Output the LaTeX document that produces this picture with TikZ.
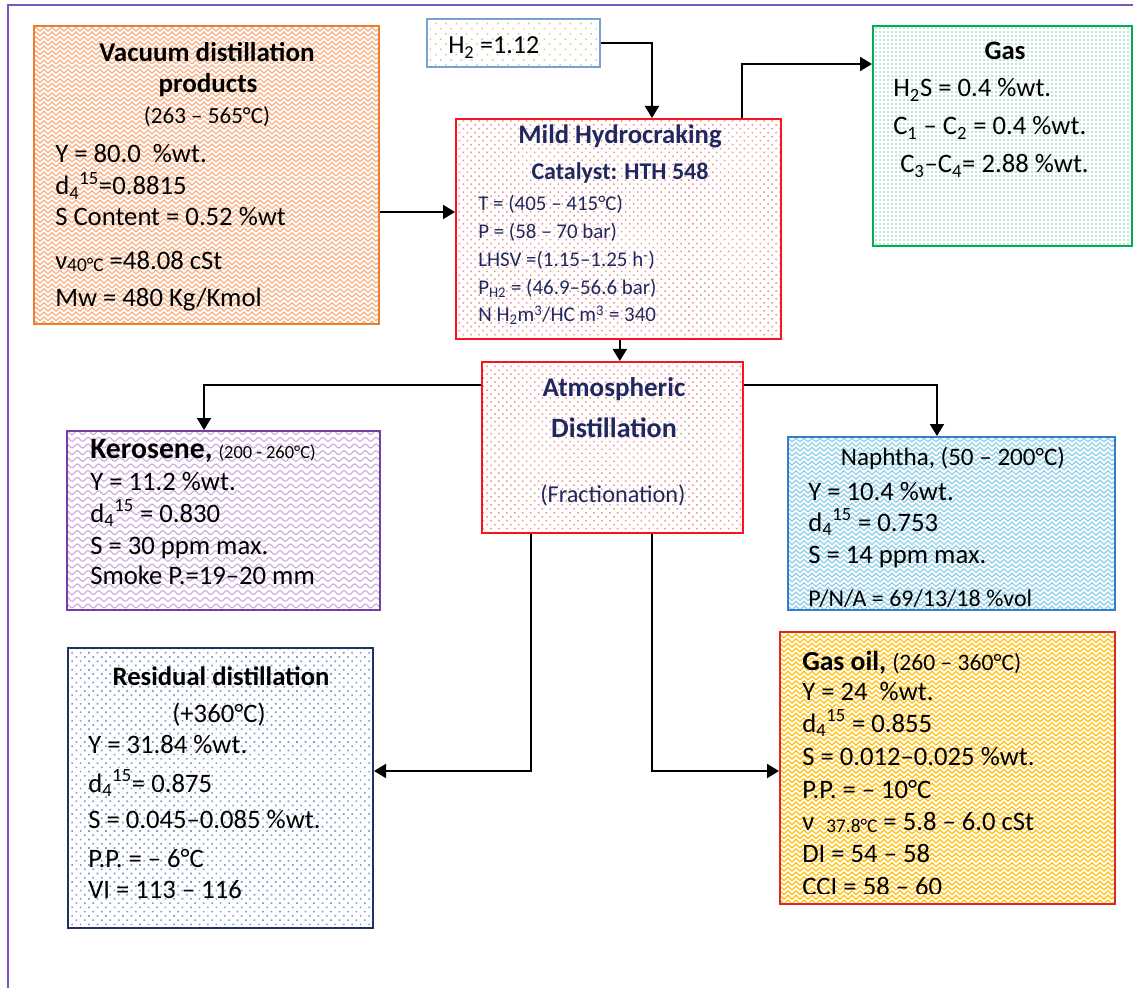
\documentclass[tikz,border=0pt]{standalone}
\usepackage{fontspec}
\setmainfont{Carlito}
\usetikzlibrary{arrows.meta,fit,patterns.meta}

\definecolor{framepurple}{RGB}{125,85,190}
\definecolor{vacborder}{RGB}{237,125,49}
\definecolor{vacpat}{RGB}{246,175,130}
\definecolor{hborder}{RGB}{120,160,210}
\definecolor{hpat}{RGB}{190,212,150}
\definecolor{redborder}{RGB}{250,20,30}
\definecolor{redpat}{RGB}{245,140,140}
\definecolor{gasborder}{RGB}{0,176,80}
\definecolor{gaspat}{RGB}{165,222,195}
\definecolor{keroborder}{RGB}{120,60,170}
\definecolor{keropat}{RGB}{205,165,225}
\definecolor{naphborder}{RGB}{50,125,205}
\definecolor{naphpat}{RGB}{140,205,232}
\definecolor{resborder}{RGB}{31,50,100}
\definecolor{respat}{RGB}{125,155,212}
\definecolor{goborder}{RGB}{220,40,40}
\definecolor{gopat}{RGB}{255,190,10}
\definecolor{navy}{RGB}{32,40,96}

% chevron weave tile
\tikzdeclarepattern{
  name=zigweave, type=uncolored,
  bottom left={(-0.6pt,-0.6pt)}, top right={(6.6pt,3.6pt)},
  tile size={(6pt,3.5pt)},
  code={
    \draw[line width=0.9pt] (0pt,0pt) -- (3pt,3pt) -- (6pt,0pt);
  }
}
% wavy lines tile
\tikzdeclarepattern{
  name=waves, type=uncolored,
  bottom left={(-0.6pt,-0.6pt)}, top right={(8.6pt,3.6pt)},
  tile size={(8pt,5pt)},
  code={
    \draw[line width=0.8pt] (0pt,1.5pt) sin (2pt,3pt) cos (4pt,1.5pt) sin (6pt,0pt) cos (8pt,1.5pt);
  }
}

\newcommand\fsz[1]{\fontsize{#1}{#1}\selectfont}

\begin{document}
\begin{tikzpicture}[x=0.75pt,y=-0.75pt,
  box/.style={inner sep=0pt, line width=1.5pt},
  arr/.style={line width=1.5pt, -{Triangle[length=9pt,width=10.5pt]}},
  txt/.style={inner sep=0pt, anchor=base west, font=\fsz{20}},
  ctxt/.style={inner sep=0pt, anchor=base, font=\fsz{20}},
]
\useasboundingbox (0,0) rectangle (1133,988);
\draw[line width=1.5pt, draw=framepurple] (8,988) -- (8,5) -- (1133,5);

% ---- boxes ----
\node[box, draw=vacborder, pattern=zigweave, pattern color=vacpat, fit={(34,26) (379,324)}] (vac) {};
\node[box, line width=1pt, draw=hborder, pattern={Dots[radius=0.8pt,distance=5.5pt,angle=45]}, pattern color=hpat, fit={(427,19) (600,67)}] (h2) {};
\node[box, draw=redborder, pattern={Dots[radius=0.8pt,distance=4.2pt,angle=45]}, pattern color=redpat, fit={(456,119) (781,339)}] (mild) {};
\node[box, draw=gasborder, pattern={Dots[radius=0.9pt,distance=3pt]}, pattern color=gaspat, fit={(873,26) (1132,246)}] (gas) {};
\node[box, draw=redborder, pattern={Dots[radius=0.8pt,distance=4.2pt,angle=45]}, pattern color=redpat, fit={(482,362) (743,533)}] (atm) {};
\node[box, draw=keroborder, pattern=waves, pattern color=keropat, fit={(67,431) (380,610)}] (kero) {};
\node[box, draw=naphborder, pattern=zigweave, pattern color=naphpat, fit={(788,437) (1115,610)}] (naph) {};
\node[box, draw=resborder, pattern={Dots[radius=0.9pt,distance=4.5pt,angle=45]}, pattern color=respat, fit={(68,648) (373,928)}] (res) {};
\node[box, draw=goborder, pattern=zigweave, pattern color=gopat, fit={(780,632) (1115,904)}] (go) {};

% ---- connectors ----
\draw[arr] (h2.east) -| ([xshift=25.1pt]mild.north);
\draw[arr] ([xshift=92.6pt]mild.north) |- ([yshift=54pt]gas.west);
\draw[arr] ([yshift=-27.75pt]vac.east) -- ([yshift=-27.75pt]vac.east -| mild.west);
\draw[arr] ([xshift=1pt]mild.south) -- ([xshift=1pt]mild.south |- atm.north);
\draw[arr] ([yshift=46.9pt]atm.west) -| ([xshift=-14.6pt]kero.north);
\draw[arr] ([yshift=46.9pt]atm.east) -| ([xshift=-10.9pt]naph.north);
\draw[arr] ([xshift=-61.1pt]atm.south) |- ([yshift=12.75pt]res.east);
\draw[arr] ([xshift=29.6pt]atm.south) |- ([yshift=-2.25pt]go.west);

% ---- vacuum distillation products ----
\node[ctxt, font=\fsz{20.3}\bfseries] (vac1) at (207,62) {Vacuum distillation};
\node[ctxt, font=\fsz{20.3}\bfseries] (vac2) at (208,93) {products};
\node[ctxt, font=\fsz{17.3}] (vac3) at (207,124) {(263 – 565°C)};
\node[txt] (vac4) at (55,163) {Y = 80.0 \ \%wt.};
\node[txt] (vac5) at (55,195) {d\textsubscript{4}\textsuperscript{15}=0.8815};
\node[txt] (vac6) at (55,226) {S Content = 0.52 \%wt};
\node[txt] (vac7) at (55,270) {ν{\fsz{14.5}\raisebox{-1.5pt}{40°C}} =48.08 cSt};
\node[txt] (vac8) at (55,307) {Mw = 480 Kg/Kmol};

% ---- hydrogen ----
\node[txt, font=\fsz{19.5}] (h2t) at (448,54) {H\textsubscript{2} =1.12};

% ---- mild hydrocracking ----
\node[ctxt, font=\fsz{20}\bfseries, text=navy] (mild1) at (620,144) {Mild Hydrocraking};
\node[ctxt, font=\fsz{18}\bfseries, text=navy] (mild2) at (620,180) {Catalyst: HTH 548};
\node[txt, font=\fsz{15.7}, text=navy] (mild3) at (478,211) {T = (405 – 415°C)};
\node[txt, font=\fsz{15.7}, text=navy] (mild4) at (478,239) {P = (58 – 70 bar)};
\node[txt, font=\fsz{15.7}, text=navy] (mild5) at (478,267) {LHSV =(1.15–1.25 h\textsuperscript{-})};
\node[txt, font=\fsz{15.7}, text=navy] (mild6) at (478,295) {P\textsubscript{H2} = (46.9–56.6 bar)};
\node[txt, font=\fsz{15.7}, text=navy] (mild7) at (478,322) {N H\textsubscript{2}m\textsuperscript{3}/HC m\textsuperscript{3} = 340};

% ---- gas ----
\node[ctxt, font=\fsz{20}\bfseries] (gas1) at (1005,60) {Gas};
\node[txt] (gas2) at (893,97) {H\textsubscript{2}S = 0.4 \%wt.};
\node[txt] (gas3) at (893,135) {C\textsubscript{1} – C\textsubscript{2} = 0.4 \%wt.};
\node[txt] (gas4) at (900,173) {C\textsubscript{3}–C\textsubscript{4}= 2.88 \%wt.};

% ---- atmospheric distillation ----
\node[ctxt, font=\fsz{20.3}\bfseries, text=navy] (atm1) at (614,397) {Atmospheric};
\node[ctxt, font=\fsz{21}\bfseries, text=navy] (atm2) at (614,437) {Distillation};
\node[ctxt, font=\fsz{18.2}, text=navy] (atm3) at (613,502) {(Fractionation)};

% ---- kerosene ----
\node[txt] (kero1) at (90,458) {{\fsz{22.3}\bfseries Kerosene,} {\fsz{13.8}(200 - 260°C)}};
\node[txt] (kero2) at (90,490) {Y = 11.2 \%wt.};
\node[txt] (kero3) at (90,522) {d\textsubscript{4}\textsuperscript{15} = 0.830};
\node[txt] (kero4) at (90,554) {S = 30 ppm max.};
\node[txt] (kero5) at (90,584) {Smoke P.=19–20 mm};

% ---- naphtha ----
\node[ctxt, font=\fsz{18.8}] (naph1) at (953,465) {Naphtha, (50 – 200°C)};
\node[txt] (naph2) at (808,500) {Y = 10.4 \%wt.};
\node[txt] (naph3) at (808,531) {d\textsubscript{4}\textsuperscript{15} = 0.753};
\node[txt] (naph4) at (808,563) {S = 14 ppm max.};
\node[txt, font=\fsz{18}] (naph5) at (808,606) {P/N/A = 69/13/18 \%vol};

% ---- residual distillation ----
\node[ctxt, font=\fsz{20}\bfseries] (res1) at (221,685) {Residual distillation};
\node[ctxt] (res2) at (219,722) {(+360°C)};
\node[txt] (res3) at (88,753) {Y = 31.84 \%wt.};
\node[txt] (res4) at (88,792) {d\textsubscript{4}\textsuperscript{15}= 0.875};
\node[txt] (res5) at (88,828) {S = 0.045–0.085 \%wt.};
\node[txt] (res6) at (88,867) {P.P. = – 6°C};
\node[txt] (res7) at (88,898) {VI = 113 – 116};

% ---- gas oil ----
\node[txt] (go1) at (802,670) {{\fsz{20.7}\bfseries Gas oil,} {\fsz{17.7}(260 – 360°C)}};
\node[txt] (go2) at (802,700) {Y = 24 \ \%wt.};
\node[txt] (go3) at (802,732) {d\textsubscript{4}\textsuperscript{15} = 0.855};
\node[txt] (go4) at (802,765) {S = 0.012–0.025 \%wt.};
\node[txt] (go5) at (802,798) {P.P. = – 10°C};
\node[txt] (go6) at (802,830) {ν \ {\fsz{14.5}\raisebox{-1.5pt}{37.8°C}} = 5.8 – 6.0 cSt};
\node[txt] (go7) at (802,862) {DI = 54 – 58};
\begin{scope}
  \clip (780,632) rectangle (1115,893);
  \node[txt] (go8) at (802,895) {CCI = 58 – 60};
\end{scope}
\end{tikzpicture}
\end{document}
